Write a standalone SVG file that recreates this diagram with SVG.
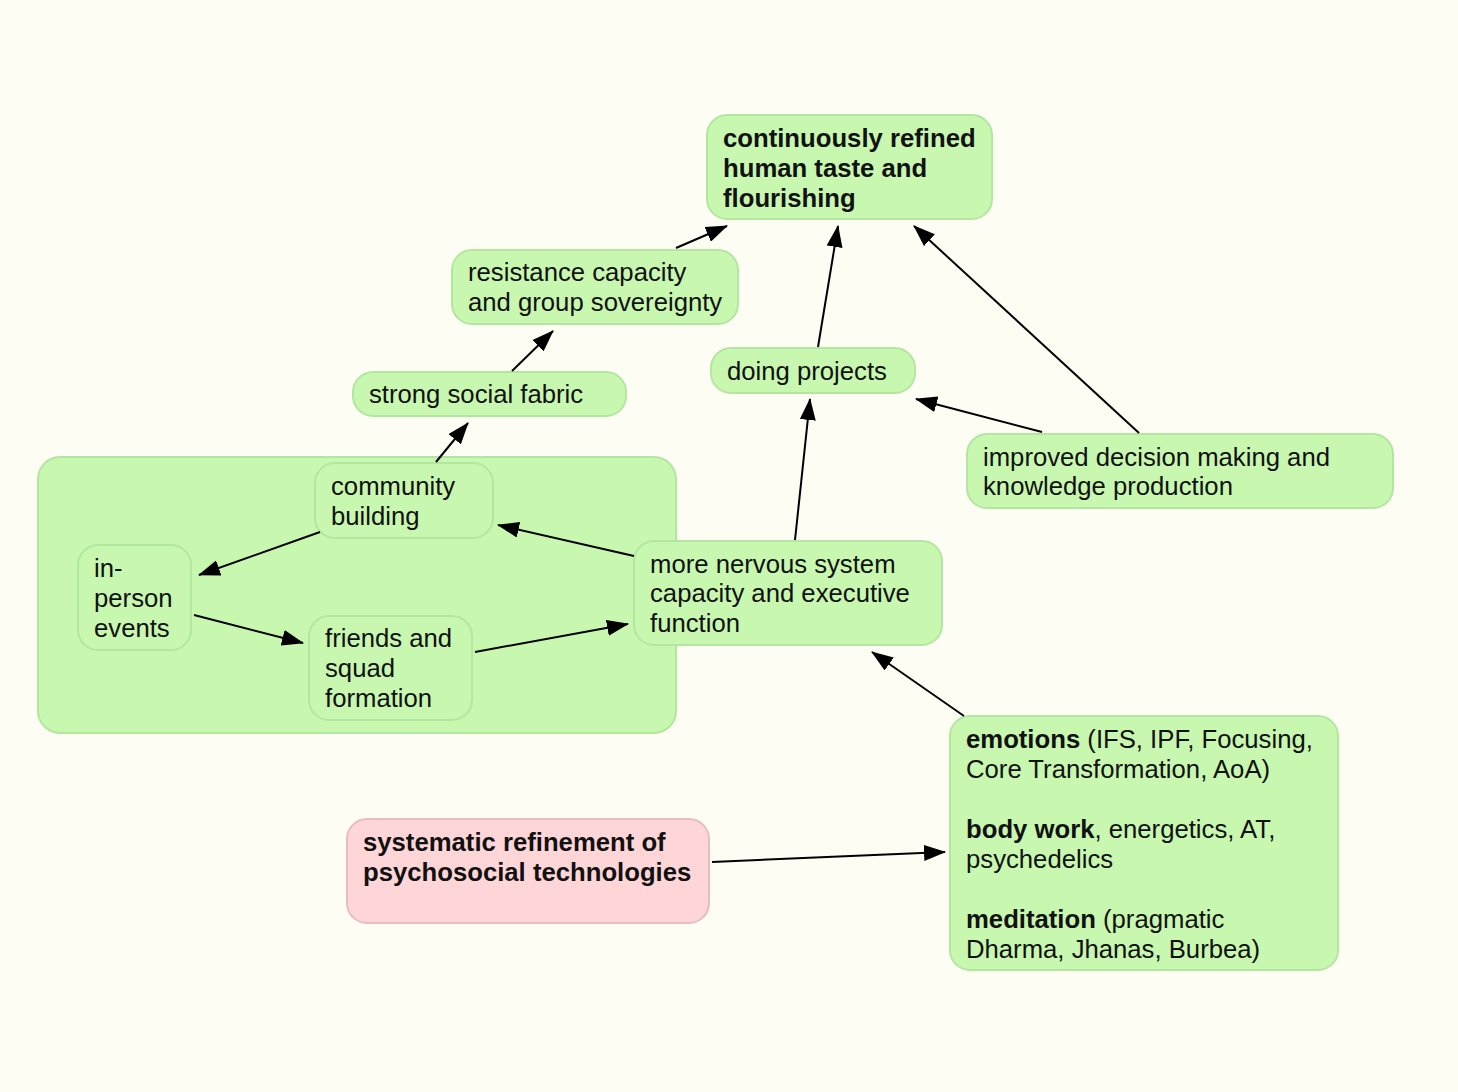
<svg xmlns="http://www.w3.org/2000/svg" width="1458" height="1092" viewBox="0 0 1458 1092">
<style>
.n{fill:#c8f7b0;stroke:#b3e6a0;stroke-width:2}
.p{fill:#ffd6d8;stroke:#e9bcbe;stroke-width:2}
text{font-family:"Liberation Sans",Arial,Helvetica,sans-serif;font-size:25.7px;fill:#111}
.b{font-weight:bold}
.e line{stroke:#000;stroke-width:2;marker-end:url(#a)}
</style>
<defs>
<marker id="a" markerUnits="userSpaceOnUse" markerWidth="22" markerHeight="16" refX="21" refY="8" orient="auto" viewBox="0 0 22 16">
<path d="M0,0 L22,8 L0,16 z" fill="#000"/>
</marker>
</defs>
<rect width="1458" height="1092" fill="#fefdf3"/>
<g id="grp"><rect class="n" x="38" y="457" width="638" height="276" rx="22"/></g>
<g id="top"><rect class="n" x="707" y="115" width="285" height="104" rx="20"/>
<text class="b" x="723" y="147">continuously refined</text><text class="b" x="723" y="177">human taste and</text><text class="b" x="723" y="207">flourishing</text></g>
<g id="resist"><rect class="n" x="452" y="250" width="286" height="74" rx="20"/>
<text x="468" y="281">resistance capacity</text><text x="468" y="311">and group sovereignty</text></g>
<g id="social"><rect class="n" x="353" y="372" width="273" height="44" rx="20"/>
<text x="369" y="403">strong social fabric</text></g>
<g id="projects"><rect class="n" x="711" y="348" width="204" height="45" rx="20"/>
<text x="727" y="380">doing projects</text></g>
<g id="decision"><rect class="n" x="967" y="434" width="426" height="74" rx="20"/>
<text x="983" y="466">improved decision making and</text><text x="983" y="495">knowledge production</text></g>
<g id="community"><rect class="n" x="315" y="463" width="178" height="75" rx="20"/>
<text x="331" y="495">community</text><text x="331" y="525">building</text></g>
<g id="inperson"><rect class="n" x="78" y="545" width="113" height="105" rx="20"/>
<text x="94" y="577">in-</text><text x="94" y="607">person</text><text x="94" y="637">events</text></g>
<g id="friends"><rect class="n" x="309" y="616" width="163" height="104" rx="20"/>
<text x="325" y="647">friends and</text><text x="325" y="677">squad</text><text x="325" y="707">formation</text></g>
<g id="nervous"><rect class="n" x="634" y="541" width="308" height="104" rx="20"/>
<text x="650" y="573">more nervous system</text><text x="650" y="602">capacity and executive</text><text x="650" y="632">function</text></g>
<g id="practices"><rect class="n" x="950" y="716" width="388" height="254" rx="20"/>
<text x="966" y="748"><tspan class="b">emotions</tspan> (IFS, IPF, Focusing,</text><text x="966" y="778">Core Transformation, AoA)</text>
<text x="966" y="838"><tspan class="b">body work</tspan>, energetics, AT,</text><text x="966" y="868">psychedelics</text>
<text x="966" y="928"><tspan class="b">meditation</tspan> (pragmatic</text><text x="966" y="958">Dharma, Jhanas, Burbea)</text></g>
<g id="systematic"><rect class="p" x="347" y="819" width="362" height="104" rx="20"/>
<text class="b" x="363" y="851">systematic refinement of</text><text class="b" x="363" y="881">psychosocial technologies</text></g>
<g id="edges" class="e">
<line x1="676" y1="248" x2="727" y2="226"/>
<line x1="512" y1="371" x2="553" y2="331"/>
<line x1="436" y1="462" x2="468" y2="423"/>
<line x1="818" y1="347" x2="838" y2="226"/>
<line x1="1139" y1="433" x2="914" y2="226"/>
<line x1="1042" y1="432" x2="916" y2="399"/>
<line x1="795" y1="540" x2="810" y2="399"/>
<line x1="634" y1="556" x2="498" y2="525"/>
<line x1="320" y1="532" x2="199" y2="575"/>
<line x1="194" y1="615" x2="303" y2="643"/>
<line x1="475" y1="652" x2="628" y2="624"/>
<line x1="964" y1="716" x2="872" y2="652"/>
<line x1="712" y1="862" x2="945" y2="852"/>
</g>
</svg>
